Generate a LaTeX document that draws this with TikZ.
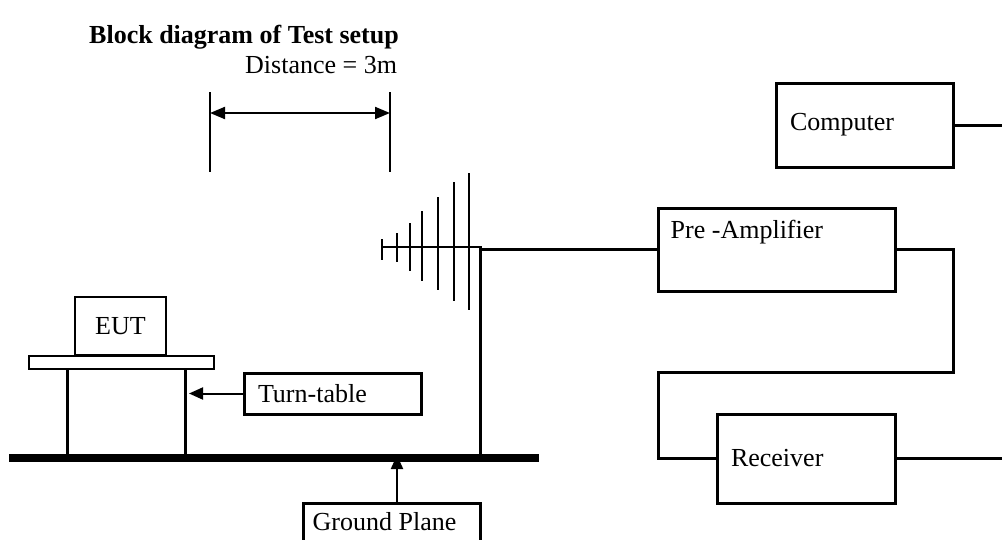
\documentclass[tikz,border=0pt]{standalone}
\usepackage{fontspec}
\setmainfont{Liberation Serif}
\usetikzlibrary{arrows.meta, calc}
\tikzset{
  every node/.style={font=\fontsize{26}{30}\selectfont, inner sep=0pt},
  box/.style={draw, line width=3pt, align=left, inner xsep=14pt},
  thinbox/.style={draw, line width=2pt},
  wire/.style={line width=3pt},
  element/.style={line width=2.5pt},
  pointer/.style={line width=2pt, -{Triangle[length=14pt,width=12pt]}}
}

\begin{document}
\begin{tikzpicture}[x=1pt, y=-1pt]
\useasboundingbox (0,0) rectangle (1002,539);
\clip (0,0) rectangle (1002,539);
% headings
\node[anchor=base west, font=\fontsize{26}{30}\selectfont\bfseries] (title) at (89,43) {Block diagram of Test setup};
\node[anchor=base west] (dist) at (245,73) {Distance = 3m};
% distance marker
\coordinate (d1a) at (210,92); \coordinate (d1b) at (210,172);
\coordinate (d2a) at (390,92); \coordinate (d2b) at (390,172);
\draw[line width=2pt] (d1a) -- (d1b);
\draw[line width=2pt] (d2a) -- (d2b);
\draw[line width=2pt, {Triangle[length=15pt,width=12pt]}-{Triangle[length=15pt,width=12pt]}] ($(d1a)!0.2625!(d1b)$) -- ($(d2a)!0.2625!(d2b)$);
% boxes
\node[box, text width=149pt, minimum height=84pt] (comp) at (864.5,125) {Computer};
\node[box, minimum width=237pt, minimum height=83pt] (amp) at (776.5,249.5) {};
\node[anchor=base west] (amptext) at ([xshift=14pt,yshift=-32pt]amp.north west) {Pre -Amplifier};
\node[box, text width=150pt, minimum height=89pt] (rx) at (806,458.5) {Receiver};
\node[box, text width=149pt, minimum height=41pt] (tt) at (332.5,393.5) {Turn-table};
\node[box, minimum width=177pt, minimum height=70pt, anchor=north] (gp) at (391.5,502) {};
\node[anchor=base west] (gptext) at ([xshift=11pt,yshift=-28pt]gp.north west) {Ground Plane};
% EUT on the table
\node[thinbox, minimum width=91pt, minimum height=58pt] (eut) at (120.5,326) {EUT};
\node[thinbox, minimum width=185pt, minimum height=13pt] (top) at (121.5,362.5) {};
% ground
\coordinate (gl) at (9,458); \coordinate (gr) at (539,458);
\draw[line width=8pt] (gl) -- (gr);
\coordinate (leg1) at (67,458); \coordinate (leg2) at (185,458);
\draw[wire] (top.south -| leg1) -- (leg1);
\draw[wire] (top.south -| leg2) -- (leg2);
% antenna
\coordinate (mast) at (480,458);
\draw[line width=2pt] (382,247) -- (482,247);
\foreach \x/\a/\b in {382/239/260, 397/233/262, 410/223/271, 422/211/281, 438/197/290, 454/182/301, 469/173/310}
  \draw[element] (\x,\a) -- (\x,\b);
% connections
\draw[wire] (amp.west) -| (mast);
\coordinate (loopR) at (953,372); \coordinate (loopL) at (658,372);
\draw[wire] (amp.east) -| (loopR) -- (loopL) |- (rx.west);
\coordinate (compout) at (1005,125);
\coordinate (rxout) at (1005,458.5);
\draw[wire] (comp.east) -- (compout);
\draw[wire] (rx.east) -- (rxout);
\coordinate (gpin) at (397,458);
\draw[pointer] (tt.west) -- ([xshift=4pt]tt.west -| leg2);
\draw[pointer] (gp.north -| gpin) -- ([yshift=3pt]gpin);
\end{tikzpicture}
\end{document}
